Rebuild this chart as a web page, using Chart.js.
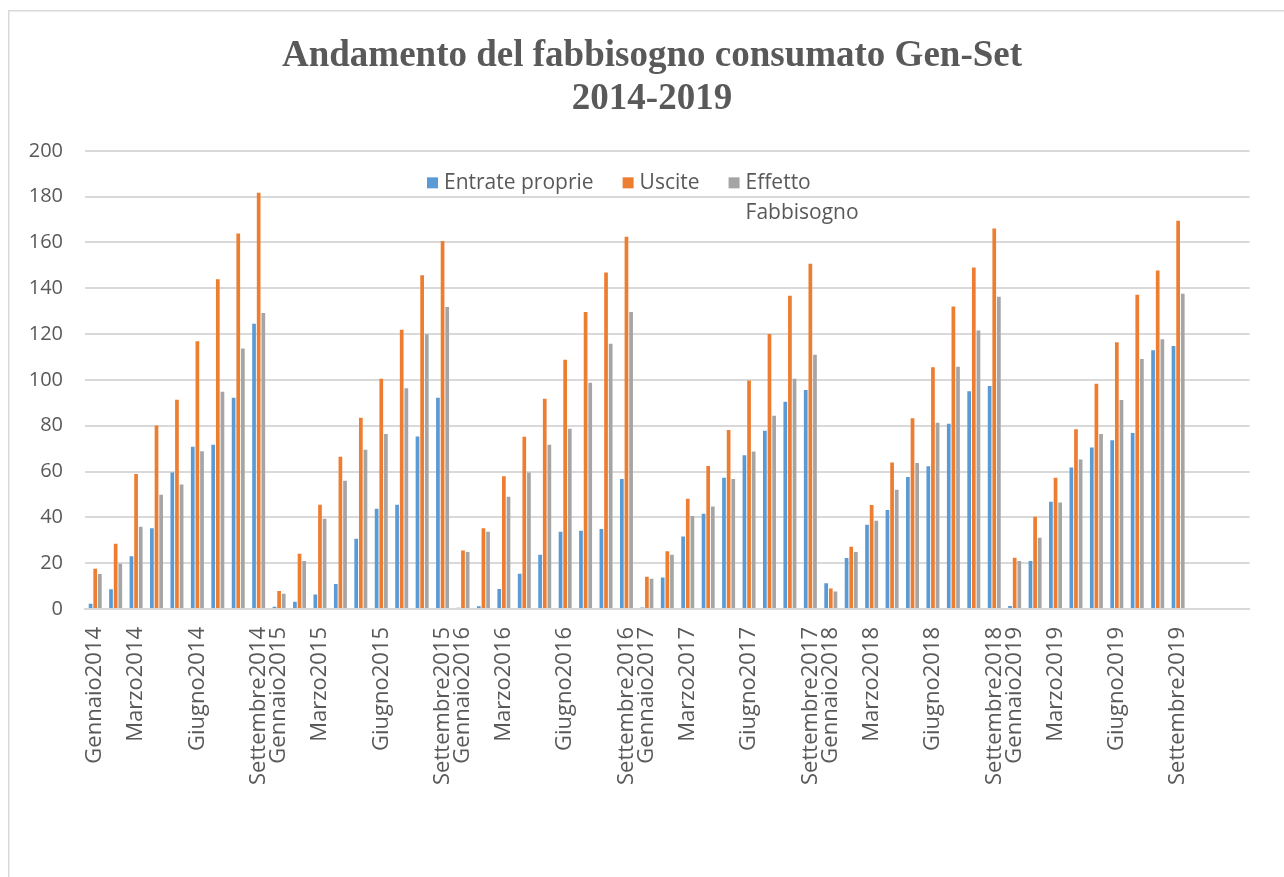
<!DOCTYPE html>
<html>
<head>
<meta charset="utf-8">
<script src="https://cdn.jsdelivr.net/npm/chart.js@4/dist/chart.umd.min.js"></script>
<style>
  html, body { margin: 0; padding: 0; background: #ffffff; }
  canvas { display: block; }
</style>
</head>
<body>
<canvas id="chart" width="1284" height="877"></canvas>
<script>
// ---- Data ----
const titleLines = ['Andamento del fabbisogno consumato Gen-Set', '2014-2019'];
const years = [2014, 2015, 2016, 2017, 2018, 2019];
const monthLabels = ['Gennaio', '', 'Marzo', '', '', 'Giugno', '', '', 'Settembre'];
const trailingCategories = ['', '', ''];
const yTickValues = [0, 20, 40, 60, 80, 100, 120, 140, 160, 180, 200];
const seriesNames = ['Entrate proprie', 'Uscite', 'Effetto Fabbisogno'];
const legendLines = [['Entrate proprie'], ['Uscite'], ['Effetto', 'Fabbisogno']];

const entrateProprie = [
  2.3, 8.6, 23.0, 35.2, 59.6, 70.8, 71.7, 92.2, 124.5,
  1.0, 3.2, 6.3, 10.9, 30.7, 43.8, 45.5, 75.3, 92.2,
  0.6, 1.2, 8.7, 15.4, 23.7, 33.7, 34.2, 34.9, 56.7,
  0.7, 13.7, 31.6, 41.6, 57.3, 67.1, 77.8, 90.5, 95.6,
  11.2, 22.3, 36.8, 43.2, 57.6, 62.3, 80.9, 95.0, 97.3,
  1.3, 20.9, 46.8, 61.8, 70.5, 73.7, 76.8, 112.9, 114.8
];
const uscite = [
  17.6, 28.5, 58.9, 80.1, 91.3, 116.9, 143.9, 163.9, 181.7,
  7.9, 24.1, 45.5, 66.5, 83.5, 100.5, 121.9, 145.7, 160.6,
  25.5, 35.2, 57.9, 75.2, 91.8, 108.8, 129.6, 146.9, 162.5,
  14.1, 25.2, 48.1, 62.4, 78.1, 99.8, 120.0, 136.7, 150.7,
  8.9, 27.2, 45.4, 63.9, 83.3, 105.5, 132.1, 149.1, 166.1,
  22.4, 40.3, 57.3, 78.5, 98.3, 116.4, 137.2, 147.8, 169.5
];
const effettoFabbisogno = [
  15.3, 19.8, 35.9, 49.9, 54.3, 68.9, 94.8, 113.7, 129.2,
  6.7, 20.9, 39.4, 56.0, 69.5, 76.4, 96.4, 119.9, 131.8,
  24.9, 33.7, 49.0, 59.6, 71.7, 78.7, 98.8, 115.8, 129.6,
  13.2, 23.7, 40.6, 44.7, 56.7, 68.7, 84.4, 100.5, 111.0,
  7.6, 24.9, 38.5, 52.1, 63.7, 81.3, 105.7, 121.6, 136.3,
  20.9, 31.1, 46.5, 65.3, 76.4, 91.2, 109.1, 117.8, 137.6
];

// ---- Build library structures ----
const categories = years
  .flatMap(y => monthLabels.map(m => (m ? m + y : '')))
  .concat(trailingCategories);

const colors = ['#5B9BD5', '#ED7D31', '#A5A5A5'];
const seriesValues = [entrateProprie, uscite, effettoFabbisogno];

const TEXT = '#595959';
const GRID = '#d9d9d9';

const backgroundPlugin = {
  id: 'bgFrame',
  beforeDraw(chart) {
    const ctx = chart.ctx;
    ctx.save();
    ctx.fillStyle = '#ffffff';
    ctx.fillRect(0, 0, chart.width, chart.height);
    ctx.strokeStyle = GRID;
    ctx.lineWidth = 1.5;
    ctx.strokeRect(8.75, 10.75, chart.width + 20, chart.height + 20);
    ctx.restore();
  }
};

const legendPlugin = {
  id: 'excelLegend',
  afterDraw(chart) {
    const ctx = chart.ctx;
    const area = chart.chartArea;
    ctx.save();
    ctx.font = '21px "Open Sans"';
    ctx.textBaseline = 'middle';
    ctx.textAlign = 'left';
    let x = area.left + 342;
    const y = area.top + 32;
    chart.data.datasets.forEach((ds, i) => {
      ctx.fillStyle = ds.backgroundColor;
      ctx.fillRect(x, y - 5.5, 11, 11);
      ctx.fillStyle = TEXT;
      const lines = legendLines[i];
      lines.forEach((ln, j) => ctx.fillText(ln, x + 17, y + j * 30));
      x += 17 + ctx.measureText(lines[0]).width + 29;
    });
    ctx.restore();
  }
};

new Chart(document.getElementById('chart'), {
  type: 'bar',
  data: {
    labels: categories,
    datasets: seriesNames.map((name, i) => ({
      label: name,
      data: seriesValues[i],
      backgroundColor: colors[i],
      borderWidth: 0,
      barPercentage: 0.8,
      categoryPercentage: 0.68
    }))
  },
  options: {
    responsive: false,
    animation: false,
    layout: { padding: { left: 20, right: 0, top: 10, bottom: 0 } },
    plugins: {
      legend: { display: false },
      tooltip: { enabled: false },
      title: {
        display: true,
        text: titleLines,
        color: TEXT,
        font: { family: '"Liberation Serif", "Times New Roman", serif', size: 37, weight: 'bold', lineHeight: 1.16 },
        padding: { top: 25, bottom: 30 }
      }
    },
    scales: {
      x: {
        grid: { display: false, drawTicks: false },
        border: { display: true, color: GRID, width: 2 },
        ticks: {
          autoSkip: false,
          maxRotation: 90,
          minRotation: 90,
          padding: 18,
          color: TEXT,
          font: { family: '"Open Sans"', size: 22 }
        },
        afterFit(scale) { scale.height = 268; }
      },
      y: {
        min: 0,
        max: 200,
        afterBuildTicks(scale) { scale.ticks = yTickValues.map(v => ({ value: v })); },
        ticks: {
          padding: 22,
          color: TEXT,
          font: { family: '"Open Sans"', size: 20 }
        },
        grid: { color: GRID, lineWidth: 2, drawTicks: false },
        border: { display: false },
        afterFit(scale) { scale.width = 65; }
      },
      yRightSpace: {
        position: 'right',
        display: true,
        min: 0,
        max: 200,
        grid: { display: false, drawTicks: false },
        border: { display: false },
        ticks: { display: false },
        afterFit(scale) { scale.width = 19; }
      }
    }
  },
  plugins: [backgroundPlugin, legendPlugin]
});
</script>
</body>
</html>
